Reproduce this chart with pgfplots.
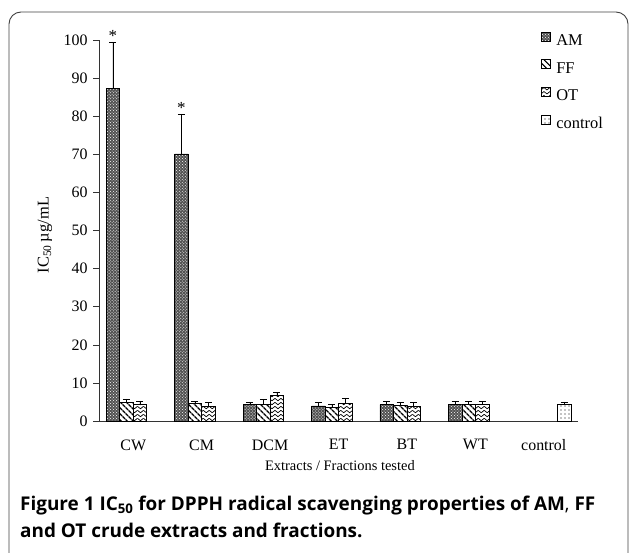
\documentclass[border=0pt]{standalone}
\usepackage{pgfplots}
\pgfplotsset{compat=1.18}
\usepackage{fontspec}
\setmainfont{Liberation Serif}
\newfontfamily\capfont{Open Sans}
\usetikzlibrary{patterns,patterns.meta}

\pgfdeclarepatternformonly{chevron}{\pgfqpoint{-1pt}{-1pt}}{\pgfqpoint{7pt}{5pt}}{\pgfqpoint{6pt}{4pt}}{%
  \pgfsetlinewidth{0.7pt}%
  \pgfpathmoveto{\pgfqpoint{0pt}{3.2pt}}%
  \pgfpathlineto{\pgfqpoint{3pt}{0.8pt}}%
  \pgfpathlineto{\pgfqpoint{6pt}{3.2pt}}%
  \pgfusepath{stroke}}

\begin{document}
\begin{tikzpicture}
\useasboundingbox (0,0) rectangle (630bp,-553bp);
\draw[black!75, line width=0.9pt, rounded corners=12bp] (9bp,-12bp) rectangle (628bp,-600bp);

\begin{axis}[
  at={(99bp,-421bp)}, anchor=south west,
  scale only axis, width=479bp, height=381bp,
  clip=false,
  xmin=-0.5, xmax=6.5, ymin=0, ymax=100,
  axis lines=left, axis line style={-, black!80, line width=0.6pt},
  ybar=0pt, bar width=13.5bp,
  ytick={0,10,...,100},
  xtick={0,...,6},
  xticklabels={CW,CM,DCM,ET,BT,WT,control},
  xtick style={draw=none},
  minor xtick={-0.5,0.5,...,6.5},
  minor x tick style={black!80, line width=0.6pt},
  y tick style={black!80, line width=0.6pt},
  tick align=outside, major tick length=6bp, minor tick length=6bp,
  /pgf/number format/assume math mode=true,
  tick label style={font=\fontsize{16}{18}\selectfont},
  yticklabel style={xshift=-2bp},
  xticklabel style={yshift=-9bp},
  xlabel={Extracts / Fractions tested},
  xlabel style={font=\fontsize{14.5}{17}\selectfont, at={(axis description cs:0.503,-0.118)}, anchor=center},
  ylabel={IC\textsubscript{50}\,µg/mL},
  ylabel style={font=\fontsize{16.5}{19}\selectfont, at={(axis description cs:-0.113,0.488)}, anchor=center},
  legend style={draw=none, fill=none, at={(axis description cs:0.922,1.022)}, anchor=north west,
    font=\fontsize{16.5}{19}\selectfont, row sep=14bp, inner sep=0pt,
    nodes={inner sep=0pt, text depth=0pt}},
  legend cell align=left,
  legend image code/.code={\draw[#1, line width=0.5pt] (0bp,-1bp) rectangle (9bp,8bp);},
  error bars/y dir=plus, error bars/y explicit,
  error bars/error bar style={black, line width=0.5pt},
  error bars/error mark options={rotate=90, mark size=3.5bp, black, line width=0.5pt},
]
\addplot[draw=black, line width=0.5pt, fill=black!68, postaction={pattern=crosshatch dots, pattern color=white}]
  coordinates {(0,87.3) +- (0,12.2) (1,70.1) +- (0,10.5) (2,4.3) +- (0,0.7) (3,4.0) +- (0,0.9) (4,4.3) +- (0,0.8) (5,4.3) +- (0,0.9)};
\addplot[draw=black, line width=0.5pt, fill=white, postaction={pattern={Lines[angle=-45,distance=4pt,line width=1.4pt]}}]
  coordinates {(0,4.8) +- (0,1.0) (1,4.6) +- (0,0.7) (2,4.4) +- (0,1.2) (3,3.5) +- (0,0.8) (4,4.1) +- (0,0.8) (5,4.4) +- (0,0.8)};
\addplot[draw=black, line width=0.5pt, fill=white, postaction={pattern=chevron}]
  coordinates {(0,4.3) +- (0,0.9) (1,4.0) +- (0,0.8) (2,6.7) +- (0,0.8) (3,4.6) +- (0,1.5) (4,4.0) +- (0,0.9) (5,4.3) +- (0,0.9)};
\addplot[draw=black, line width=0.5pt, fill=white, postaction={pattern={Dots[distance=4pt,radius=0.55pt]}}]
  coordinates {(6,4.3) +- (0,0.7)};
\legend{\hspace{6bp}AM,\hspace{6bp}FF,\hspace{6bp}OT,\hspace{6bp}control}
\node[font=\fontsize{17}{17}\selectfont, anchor=south, inner sep=0bp] at (axis cs:-0.296,99.5) {*};
\node[font=\fontsize{17}{17}\selectfont, anchor=south, inner sep=0bp] at (axis cs:0.704,80.6) {*};
\end{axis}

\node[anchor=base west, inner sep=0pt, font=\capfont\fontsize{19}{20}\selectfont] at (20bp,-510bp)
  {\textbf{Figure 1 IC\textsubscript{50} for DPPH radical scavenging properties of AM}, \textbf{FF}};
\node[anchor=base west, inner sep=0pt, font=\capfont\fontsize{19}{20}\selectfont] at (20bp,-537bp)
  {\textbf{and OT crude extracts and fractions.}};
\end{tikzpicture}
\end{document}
